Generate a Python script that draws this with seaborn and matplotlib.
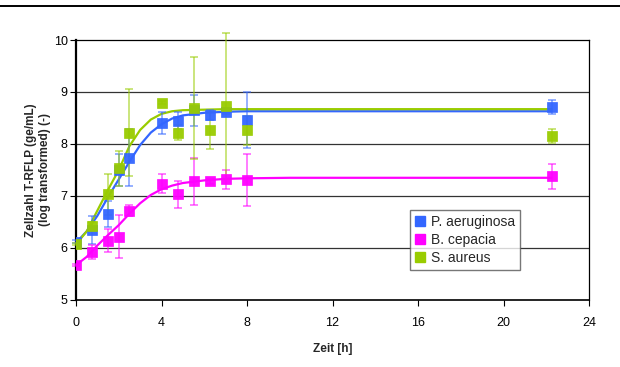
import numpy as np
import pandas as pd
import matplotlib
matplotlib.use("Agg")
import matplotlib.pyplot as plt
from matplotlib.lines import Line2D
import seaborn as sns

# measured time points [h]
zeit = [0, 0.75, 1.5, 2, 2.5, 4, 4.75, 5.5, 6.25, 7, 8, 22.25]

# means (log transformed) and errors
p_aer = [6.12, 6.35, 6.65, 7.50, 7.74, 8.40, 8.45, 8.65, 8.56, 8.62, 8.46, 8.71]
p_aer_err = [0.03, 0.27, 0.25, 0.30, 0.54, 0.21, 0.17, 0.30, 0.10, 0.05, 0.54, 0.13]
b_cep = [5.67, 5.92, 6.14, 6.22, 6.72, 7.24, 7.03, 7.28, 7.28, 7.32, 7.30, 7.38]
b_cep_err = [0.02, 0.14, 0.22, 0.41, 0.10, 0.19, 0.26, 0.46, 0.05, 0.18, 0.50, 0.24]
s_aur = [6.07, 6.42, 7.03, 7.53, 8.22, 8.79, 8.22, 8.70, 8.26, 8.73, 8.26, 8.15]
s_aur_err = [0.02, 0.08, 0.40, 0.34, 0.83, 0.03, 0.14, 0.98, 0.36, 1.40, 0.27, 0.13]

# fitted growth curves
fit_t = [0, 0.5, 1, 1.5, 2, 2.5, 3, 3.5, 4, 4.5, 5, 6, 7, 8, 10, 22.25]
fit_p_aer = [6.10, 6.32, 6.62, 6.98, 7.32, 7.66, 7.98, 8.22, 8.38, 8.49, 8.55, 8.60, 8.62, 8.63, 8.63, 8.63]
fit_s_aur = [6.07, 6.32, 6.72, 7.12, 7.50, 7.96, 8.27, 8.47, 8.58, 8.63, 8.65, 8.66, 8.67, 8.67, 8.67, 8.67]
fit_b_cep = [5.67, 5.83, 6.05, 6.25, 6.44, 6.66, 6.86, 7.02, 7.13, 7.20, 7.25, 7.30, 7.33, 7.34, 7.35, 7.35]

names = ["P. aeruginosa", "B. cepacia", "S. aureus"]
colors = ["#3366FF", "#FF00FF", "#99CC00"]

sns.set_style("white")
plt.rcParams['font.family'] = ['Liberation Sans', 'DejaVu Sans']

fig = plt.figure(figsize=(6.2, 3.67), dpi=100)
ax = fig.add_axes([0.1226, 0.1826, 0.8274, 0.7084])

series = [
    (p_aer, p_aer_err, fit_p_aer),
    (b_cep, b_cep_err, fit_b_cep),
    (s_aur, s_aur_err, fit_s_aur),
]

for (vals, errs, fit), name, col in zip(series, names, colors):
    fit_df = pd.DataFrame({"t": fit_t, "y": fit})
    sns.lineplot(data=fit_df, x="t", y="y", color=col, linewidth=1.6, ax=ax, zorder=3)
    eb = ax.errorbar(zeit, vals, yerr=errs, fmt="none", ecolor=col, elinewidth=1.1,
                     capsize=3, capthick=1.1, alpha=0.65, zorder=4)
    for art in eb.get_children():
        art.set_clip_on(False)
    ax.plot(zeit, vals, linestyle="none", marker="s", markersize=7.8,
            markerfacecolor=col, markeredgecolor=col, markeredgewidth=0.5,
            alpha=0.95, zorder=5)

ax.set_xlim(0, 24)
ax.set_ylim(5, 10)
ax.set_xticks(range(0, 25, 4))
ax.set_yticks(range(5, 11))
for yv in [6, 7, 8, 9]:
    ax.axhline(yv, color="#333333", linewidth=0.9, zorder=1)

for side in ["left", "bottom", "right", "top"]:
    ax.spines[side].set_color("black")
    ax.spines[side].set_linewidth(0.9)
ax.spines["left"].set_linewidth(1.6)
ax.spines["bottom"].set_linewidth(1.2)

ax.tick_params(axis="both", direction="out", length=4, width=0.8, labelsize=9,
               colors="black", left=True, bottom=True)
ax.tick_params(axis="x", pad=8)
ax.tick_params(axis="y", pad=2)
ax.set_xlabel("Zeit [h]", fontsize=8.5, fontweight="bold", labelpad=10)
ax.set_ylabel("Zellzahl T-RFLP (ge/mL)\n(log transformed) (-)", fontsize=8.5,
              fontweight="bold", labelpad=2)

handles = [Line2D([], [], linestyle="none", marker="s", markersize=7,
                  markerfacecolor=c, markeredgecolor=c) for c in colors]
leg = ax.legend(handles, names, loc="lower left", bbox_to_anchor=(0.651, 0.115),
                fontsize=10, frameon=True, fancybox=False, handlelength=0.8,
                handletextpad=0.4, borderpad=0.35, labelspacing=0.3,
                borderaxespad=0)
leg.get_frame().set_edgecolor("#555555")
leg.get_frame().set_linewidth(1.0)

# thin rule across the top of the figure
fig.add_artist(Line2D([0, 1], [1 - 5.5 / 367, 1 - 5.5 / 367], color="black",
                      linewidth=1.4, transform=fig.transFigure))

fig.savefig("out.png", dpi=100)
